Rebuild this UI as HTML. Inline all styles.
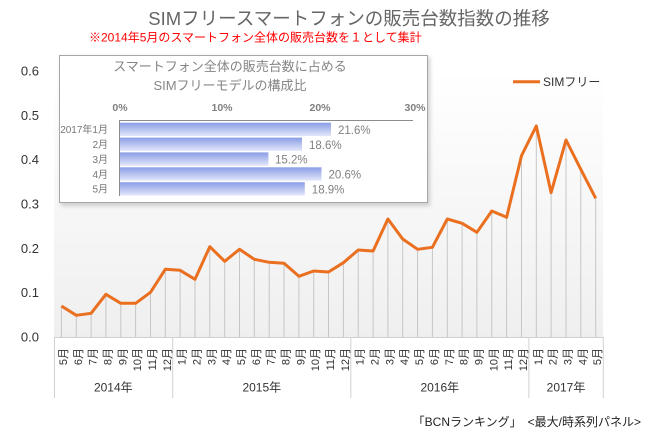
<!DOCTYPE html>
<html><head><meta charset="utf-8"><style>
html,body{margin:0;padding:0;background:#fff;}
svg{display:block;font-family:"Liberation Sans","Noto Sans CJK JP",sans-serif;}
</style></head><body>
<svg width="650" height="430" viewBox="0 0 650 430" xmlns="http://www.w3.org/2000/svg">
<defs>
<linearGradient id="bg" x1="0" y1="0" x2="0" y2="1">
<stop offset="0" stop-color="#ffffff"/><stop offset="1" stop-color="#efefef"/>
</linearGradient>
<linearGradient id="bar" x1="0" y1="0" x2="0" y2="1">
<stop offset="0" stop-color="#8b9de6"/><stop offset="1" stop-color="#e2e7fa"/>
</linearGradient>
<filter id="sh" x="-5%" y="-5%" width="115%" height="120%">
<feGaussianBlur stdDeviation="2"/>
</filter>
</defs>
<rect x="54" y="71" width="549" height="266" fill="url(#bg)"/>
<g stroke="#c6c6c6" stroke-width="1">
<line x1="61.4" y1="306" x2="61.4" y2="337"/>
<line x1="76.3" y1="315.3" x2="76.3" y2="337"/>
<line x1="91.1" y1="313.3" x2="91.1" y2="337"/>
<line x1="105.9" y1="294.3" x2="105.9" y2="337"/>
<line x1="120.8" y1="303.3" x2="120.8" y2="337"/>
<line x1="135.6" y1="303.3" x2="135.6" y2="337"/>
<line x1="150.5" y1="292.3" x2="150.5" y2="337"/>
<line x1="165.3" y1="269.3" x2="165.3" y2="337"/>
<line x1="180.1" y1="270.3" x2="180.1" y2="337"/>
<line x1="195.0" y1="279.3" x2="195.0" y2="337"/>
<line x1="209.8" y1="246.7" x2="209.8" y2="337"/>
<line x1="224.7" y1="261.3" x2="224.7" y2="337"/>
<line x1="239.5" y1="249.3" x2="239.5" y2="337"/>
<line x1="254.3" y1="259.3" x2="254.3" y2="337"/>
<line x1="269.2" y1="262.3" x2="269.2" y2="337"/>
<line x1="284.0" y1="263.3" x2="284.0" y2="337"/>
<line x1="298.9" y1="276.3" x2="298.9" y2="337"/>
<line x1="313.7" y1="271" x2="313.7" y2="337"/>
<line x1="328.5" y1="272" x2="328.5" y2="337"/>
<line x1="343.4" y1="262.7" x2="343.4" y2="337"/>
<line x1="358.2" y1="250" x2="358.2" y2="337"/>
<line x1="373.1" y1="251" x2="373.1" y2="337"/>
<line x1="387.9" y1="219" x2="387.9" y2="337"/>
<line x1="402.7" y1="239" x2="402.7" y2="337"/>
<line x1="417.6" y1="249.3" x2="417.6" y2="337"/>
<line x1="432.4" y1="247.3" x2="432.4" y2="337"/>
<line x1="447.3" y1="219" x2="447.3" y2="337"/>
<line x1="462.1" y1="223.3" x2="462.1" y2="337"/>
<line x1="476.9" y1="232.3" x2="476.9" y2="337"/>
<line x1="491.8" y1="211" x2="491.8" y2="337"/>
<line x1="506.6" y1="217.3" x2="506.6" y2="337"/>
<line x1="521.5" y1="155.7" x2="521.5" y2="337"/>
<line x1="536.3" y1="126" x2="536.3" y2="337"/>
<line x1="551.1" y1="192.7" x2="551.1" y2="337"/>
<line x1="566.0" y1="140" x2="566.0" y2="337"/>
<line x1="580.8" y1="169.3" x2="580.8" y2="337"/>
<line x1="595.7" y1="198.3" x2="595.7" y2="337"/>
</g>
<g stroke="#d0d0d0" stroke-width="1">
<line x1="54" y1="337.5" x2="603.5" y2="337.5"/>
<line x1="54.5" y1="337" x2="54.5" y2="398"/>
<line x1="172.7" y1="337" x2="172.7" y2="398"/>
<line x1="350.8" y1="337" x2="350.8" y2="398"/>
<line x1="528.9" y1="337" x2="528.9" y2="398"/>
<line x1="603.3" y1="337" x2="603.3" y2="398"/>
</g>
<polyline fill="none" stroke="#ea7020" stroke-width="3" stroke-linejoin="round" points="61.4,306 76.3,315.3 91.1,313.3 105.9,294.3 120.8,303.3 135.6,303.3 150.5,292.3 165.3,269.3 180.1,270.3 195.0,279.3 209.8,246.7 224.7,261.3 239.5,249.3 254.3,259.3 269.2,262.3 284.0,263.3 298.9,276.3 313.7,271 328.5,272 343.4,262.7 358.2,250 373.1,251 387.9,219 402.7,239 417.6,249.3 432.4,247.3 447.3,219 462.1,223.3 476.9,232.3 491.8,211 506.6,217.3 521.5,155.7 536.3,126 551.1,192.7 566.0,140 580.8,169.3 595.7,198.3"/>
<g font-size="13" fill="#333" text-anchor="end">
<text x="39" y="75.5">0.6</text>
<text x="39" y="119.8">0.5</text>
<text x="39" y="164.1">0.4</text>
<text x="39" y="208.5">0.3</text>
<text x="39" y="252.8">0.2</text>
<text x="39" y="297.1">0.1</text>
<text x="39" y="341.5">0.0</text>
</g>
<g font-size="11" fill="#333" text-anchor="end">
<text transform="translate(66.9,348) rotate(-90)">5月</text>
<text transform="translate(81.8,348) rotate(-90)">6月</text>
<text transform="translate(96.6,348) rotate(-90)">7月</text>
<text transform="translate(111.4,348) rotate(-90)">8月</text>
<text transform="translate(126.3,348) rotate(-90)">9月</text>
<text transform="translate(141.1,348) rotate(-90)">10月</text>
<text transform="translate(156.0,348) rotate(-90)">11月</text>
<text transform="translate(170.8,348) rotate(-90)">12月</text>
<text transform="translate(185.6,348) rotate(-90)">1月</text>
<text transform="translate(200.5,348) rotate(-90)">2月</text>
<text transform="translate(215.3,348) rotate(-90)">3月</text>
<text transform="translate(230.2,348) rotate(-90)">4月</text>
<text transform="translate(245.0,348) rotate(-90)">5月</text>
<text transform="translate(259.8,348) rotate(-90)">6月</text>
<text transform="translate(274.7,348) rotate(-90)">7月</text>
<text transform="translate(289.5,348) rotate(-90)">8月</text>
<text transform="translate(304.4,348) rotate(-90)">9月</text>
<text transform="translate(319.2,348) rotate(-90)">10月</text>
<text transform="translate(334.0,348) rotate(-90)">11月</text>
<text transform="translate(348.9,348) rotate(-90)">12月</text>
<text transform="translate(363.7,348) rotate(-90)">1月</text>
<text transform="translate(378.6,348) rotate(-90)">2月</text>
<text transform="translate(393.4,348) rotate(-90)">3月</text>
<text transform="translate(408.2,348) rotate(-90)">4月</text>
<text transform="translate(423.1,348) rotate(-90)">5月</text>
<text transform="translate(437.9,348) rotate(-90)">6月</text>
<text transform="translate(452.8,348) rotate(-90)">7月</text>
<text transform="translate(467.6,348) rotate(-90)">8月</text>
<text transform="translate(482.4,348) rotate(-90)">9月</text>
<text transform="translate(497.3,348) rotate(-90)">10月</text>
<text transform="translate(512.1,348) rotate(-90)">11月</text>
<text transform="translate(527.0,348) rotate(-90)">12月</text>
<text transform="translate(541.8,348) rotate(-90)">1月</text>
<text transform="translate(556.6,348) rotate(-90)">2月</text>
<text transform="translate(571.5,348) rotate(-90)">3月</text>
<text transform="translate(586.3,348) rotate(-90)">4月</text>
<text transform="translate(601.2,348) rotate(-90)">5月</text>
</g>
<g font-size="12" fill="#333" text-anchor="middle">
<text x="113.3" y="391.5">2014年</text>
<text x="261.8" y="391.5">2015年</text>
<text x="439.8" y="391.5">2016年</text>
<text x="566" y="391.5">2017年</text>
</g>
<text x="349" y="25" font-size="18.5" fill="#666" text-anchor="middle">SIMフリースマートフォンの販売台数指数の推移</text>
<text x="89" y="41.5" font-size="12" fill="#ff0000">※2014年5月のスマートフォン全体の販売台数を１として集計</text>
<line x1="513" y1="81.7" x2="540" y2="81.7" stroke="#ea7020" stroke-width="3"/>
<text x="543" y="86" font-size="12" fill="#333">SIMフリー</text>
<text x="641" y="426" font-size="12" fill="#222" text-anchor="end">「BCNランキング」　&lt;最大/時系列パネル&gt;</text>
<rect x="61" y="57" width="369" height="149" fill="#999" opacity="0.45" filter="url(#sh)"/>
<rect x="59.5" y="55.5" width="368" height="147" fill="#fff" stroke="#a6a6a6" stroke-width="1"/>
<g fill="#858585" text-anchor="middle" font-size="13">
<text x="230" y="71">スマートフォン全体の販売台数に占める</text>
<text x="230" y="90">SIMフリーモデルの構成比</text>
</g>
<g fill="#808080" font-size="10.5" font-weight="bold" text-anchor="middle">
<text x="120" y="111">0%</text>
<text x="222" y="111">10%</text>
<text x="320" y="111">20%</text>
<text x="415" y="111">30%</text>
</g>
<rect x="119" y="122.7" width="212" height="13.3" fill="url(#bar)"/>
<rect x="119" y="137.6" width="183" height="13.3" fill="url(#bar)"/>
<rect x="119" y="152.4" width="149.4" height="13.3" fill="url(#bar)"/>
<rect x="119" y="167.3" width="202.5" height="13.3" fill="url(#bar)"/>
<rect x="119" y="182.2" width="185.8" height="13.3" fill="url(#bar)"/>
<line x1="119" y1="120.5" x2="413" y2="120.5" stroke="#8c8c8c" stroke-width="1"/>
<line x1="119.5" y1="120" x2="119.5" y2="196" stroke="#8c8c8c" stroke-width="1"/>
<g fill="#808080" font-size="11.5">
<text x="338" y="134">21.6%</text>
<text x="309" y="148.9">18.6%</text>
<text x="275" y="163.7">15.2%</text>
<text x="328.5" y="178.6">20.6%</text>
<text x="311.8" y="193.5">18.9%</text>
</g>
<g fill="#777" font-size="10" text-anchor="end">
<text x="108" y="133.2">2017年1月</text>
<text x="108" y="148.1">2月</text>
<text x="108" y="162.9">3月</text>
<text x="108" y="177.8">4月</text>
<text x="108" y="192.7">5月</text>
</g>
</svg>
</body></html>
